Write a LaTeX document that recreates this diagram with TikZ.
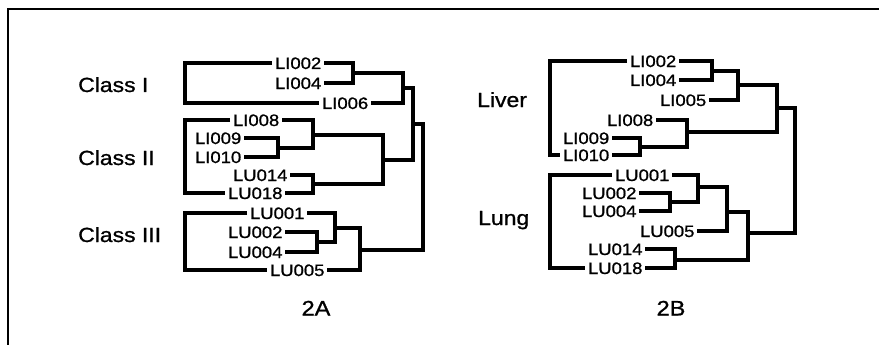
\documentclass[tikz,border=0pt]{standalone}
\usepackage{fontspec}
\setmainfont{Liberation Sans}
\newfontfamily\lf[FakeStretch=1.12,FakeBold=1]{Liberation Sans}
\begin{document}
\begin{tikzpicture}[x=1pt,y=-1pt,
  leaf/.style={anchor=base west, inner xsep=3pt, inner ysep=0pt, outer sep=0pt, font=\lf\fontsize{16.5}{16.5}\selectfont},
  grp/.style={anchor=base west, inner sep=0pt, font=\lf\fontsize{20.5}{20.5}\selectfont},
  panellabel/.style={anchor=base, inner sep=0pt, font=\lf\fontsize{21}{21}\selectfont},
  br/.style={line width=4pt, line join=miter},
  frameline/.style={line width=2pt}]
\useasboundingbox (0,0) rectangle (879,345);
\fill[white] (0,0) rectangle (879,345);
\coordinate (fa) at (8,345);
\coordinate (fb) at (8,9);
\coordinate (fc) at (879,9);
\draw[frameline] (fa) -- (fb) -- (fc);

% ---------- panel 2A ----------
\node[grp] (c1) at (78,92) {Class I};
\node[grp] (c2) at (78,165) {Class II};
\node[grp] (c3) at (78,242) {Class III};

\node[leaf] (a1) at (272,69) {LI002};
\node[leaf] (a2) at (272,89) {LI004};
\node[leaf] (a3) at (319,109) {LI006};
\node[leaf] (a4) at (230,126) {LI008};
\node[leaf] (a5) at (192,144) {LI009};
\node[leaf] (a6) at (192,163) {LI010};
\node[leaf] (a7) at (230,181) {LU014};
\node[leaf] (a8) at (225,199) {LU018};
\node[leaf] (a9) at (247,219) {LU001};
\node[leaf] (a10) at (225,238) {LU002};
\node[leaf] (a11) at (225,258) {LU004};
\node[leaf] (a12) at (267,276) {LU005};

\coordinate (j1) at (353,73);
\coordinate (j2) at (403,88);
\coordinate (j3) at (278,148);
\coordinate (j4) at (313,135);
\coordinate (j5) at (313,184);
\coordinate (j6) at (383,160);
\coordinate (j7) at (413,124);
\coordinate (j8) at (317,242);
\coordinate (j9) at (335,228);
\coordinate (j10) at (360,250);
\coordinate (r1) at (423,187);
\coordinate (xa) at (185,0);

\draw[br] (a1.east) -| (j1) |- (a2.east);
\draw[br] (j1) -| (j2) |- (a3.east);
\draw[br] (a5.east) -| (j3) |- (a6.east);
\draw[br] (j3) -| (j4) |- (a4.east);
\draw[br] (a7.east) -| (j5) |- (a8.east);
\draw[br] (j4) -| (j6) |- (j5);
\draw[br] (j2) -| (j7) |- (j6);
\draw[br] (a10.east) -| (j8) |- (a11.east);
\draw[br] (j8) -| (j9) |- (a9.east);
\draw[br] (j9) -| (j10) |- (a12.east);
\draw[br] (j7) -| (r1) |- (j10);

\draw[br] (a1.west) -- (a1.west -| xa) -- (a3.west -| xa) -- (a3.west);
\draw[br] (a4.west) -- (a4.west -| xa) -- (a8.west -| xa) -- (a8.west);
\draw[br] (a9.west) -- (a9.west -| xa) -- (a12.west -| xa) -- (a12.west);

\node[panellabel] (t2a) at (316,315.5) {2A};

% ---------- panel 2B ----------
\node[grp] (g1) at (477,107) {Liver};
\node[grp] (g2) at (478,225) {Lung};

\node[leaf] (b1) at (627,67) {LI002};
\node[leaf] (b2) at (627,86) {LI004};
\node[leaf] (b3) at (657,106) {LI005};
\node[leaf] (b4) at (604,126) {LI008};
\node[leaf] (b5) at (560,144) {LI009};
\node[leaf] (b6) at (560,161) {LI010};
\node[leaf] (b7) at (612,181) {LU001};
\node[leaf] (b8) at (579,199) {LU002};
\node[leaf] (b9) at (579,217) {LU004};
\node[leaf] (b10) at (637,237) {LU005};
\node[leaf] (b11) at (585,255) {LU014};
\node[leaf] (b12) at (585,274) {LU018};

\coordinate (k1) at (712,71);
\coordinate (k2) at (738,85);
\coordinate (k3) at (640,147);
\coordinate (k4) at (687,132);
\coordinate (k5) at (777,108);
\coordinate (k6) at (670,202);
\coordinate (k7) at (698,187);
\coordinate (k8) at (727,212);
\coordinate (k9) at (675,260);
\coordinate (k10) at (748,233);
\coordinate (r2) at (795,170);
\coordinate (xb) at (550,0);

\draw[br] (b1.east) -| (k1) |- (b2.east);
\draw[br] (k1) -| (k2) |- (b3.east);
\draw[br] (b5.east) -| (k3) |- (b6.east);
\draw[br] (k3) -| (k4) |- (b4.east);
\draw[br] (k2) -| (k5) |- (k4);
\draw[br] (b8.east) -| (k6) |- (b9.east);
\draw[br] (k6) -| (k7) |- (b7.east);
\draw[br] (k7) -| (k8) |- (b10.east);
\draw[br] (b11.east) -| (k9) |- (b12.east);
\draw[br] (k8) -| (k10) |- (k9);
\draw[br] (k5) -| (r2) |- (k10);

\draw[br] (b1.west) -- (b1.west -| xb) -- (b6.west -| xb) -- (b6.west);
\draw[br] (b7.west) -- (b7.west -| xb) -- (b12.west -| xb) -- (b12.west);

\node[panellabel] (t2b) at (671,315.5) {2B};
\end{tikzpicture}
\end{document}
